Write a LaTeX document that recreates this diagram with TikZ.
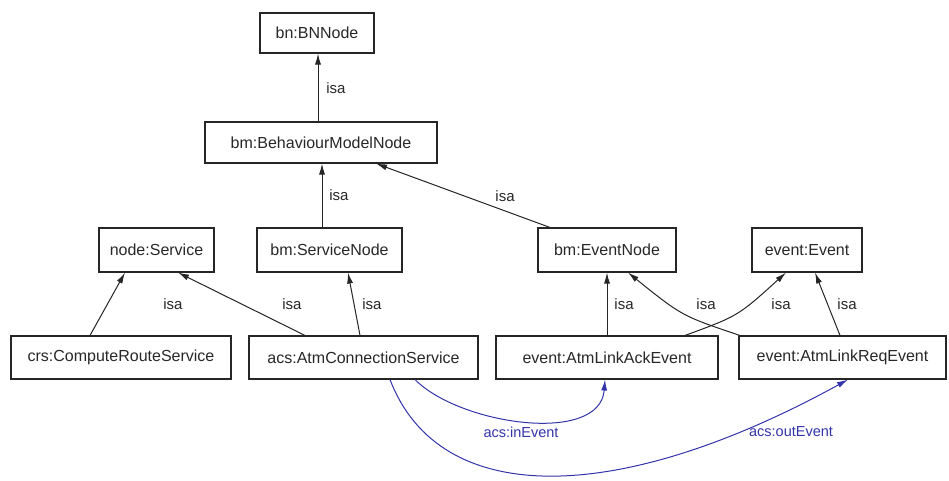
\documentclass[tikz,border=0pt]{standalone}
\usepackage{fontspec}
\setmainfont{Liberation Sans}
\usetikzlibrary{arrows.meta}
\definecolor{linkblue}{RGB}{52,52,170}
\definecolor{textgray}{RGB}{40,40,40}
\begin{document}
\begin{tikzpicture}[x=1pt,y=-1pt,
  cls/.style={draw=black!85, line width=1.1pt, fill=white, text=textgray,
    inner sep=0pt, font=\fontsize{16}{18}\selectfont},
  isa/.style={draw=black!85, line width=1pt, -{Latex[length=11pt,width=6pt]}},
  rel/.style={draw=linkblue, line width=1pt, -{Latex[length=11pt,width=6pt]}},
  lbl/.style={text=textgray, font=\fontsize{15}{17}\selectfont, inner sep=0pt},
  rlbl/.style={text=linkblue, font=\fontsize{14.5}{17}\selectfont, inner sep=0pt}]
\useasboundingbox[fill=white] (0,0) rectangle (949,480);

% class nodes
\node[cls, minimum width=114pt, minimum height=40pt] (bn)  at (317,33)    {bn:BNNode};
\node[cls, minimum width=232pt, minimum height=41pt] (bm)  at (321,142.5) {bm:BehaviourModelNode};
\node[cls, minimum width=115pt, minimum height=44pt] (ns)  at (156.5,250) {node:Service};
\node[cls, minimum width=145pt, minimum height=44pt] (sn)  at (329.5,250) {bm:ServiceNode};
\node[cls, minimum width=138pt, minimum height=44pt] (en)  at (607,250)   {bm:EventNode};
\node[cls, minimum width=110pt, minimum height=44pt] (ev)  at (807,250)   {event:Event};
\node[cls, minimum width=220pt, minimum height=43pt] (crs) at (121,357.5) {crs:ComputeRouteService};
\node[cls, minimum width=229pt, minimum height=43pt] (acs) at (363.5,357.5) {acs:AtmConnectionService};
\node[cls, minimum width=222pt, minimum height=43pt] (ack) at (607,357.5) {event:AtmLinkAckEvent};
\node[cls, minimum width=207pt, minimum height=43pt] (req) at (842.5,357.5) {event:AtmLinkReqEvent};

% isa links
\draw[isa] ([xshift=-3pt]bm.north) -- ([xshift=1pt]bn.south);
\draw[isa] ([xshift=-7.5pt]sn.north) -- ([xshift=1pt]bm.south);
\draw[isa] ([xshift=-57pt]en.north) -- ([xshift=55pt]bm.south);
\draw[isa] ([xshift=-31pt]crs.north) -- ([xshift=-31.5pt]ns.south);
\draw[isa] ([xshift=-58.5pt]acs.north) -- ([xshift=21.5pt]ns.south);
\draw[isa] ([xshift=-3.5pt]acs.north) -- ([xshift=18.5pt]sn.south);
\draw[isa] (ack.north) -- (en.south);
\draw[isa] ([xshift=-102.5pt]req.north) .. controls (682,316) .. ([xshift=21pt]en.south);
\draw[isa] ([xshift=78pt]ack.north) .. controls (738,316) .. ([xshift=-21pt]ev.south);
\draw[isa] ([xshift=-2.5pt]req.north) -- ([xshift=8pt]ev.south);

% isa labels
\node[lbl] (l1) at (336,88)  {isa};
\node[lbl] (l2) at (339,195) {isa};
\node[lbl] (l3) at (505,196) {isa};
\node[lbl] (l4) at (173,304) {isa};
\node[lbl] (l5) at (292,304) {isa};
\node[lbl] (l6) at (372,304) {isa};
\node[lbl] (l7) at (624,304) {isa};
\node[lbl] (l8) at (706,304) {isa};
\node[lbl] (l9) at (781,304) {isa};
\node[lbl] (l10) at (847,304) {isa};

% event relations
\draw[rel] ([xshift=51.5pt]acs.south) .. controls (460,425) and (600,445) .. ([xshift=-2pt]ack.south);
\draw[rel] ([xshift=26.5pt]acs.south) .. controls (440,510) and (620,505) .. ([xshift=5.5pt]req.south);
\node[rlbl] (r1) at (521,432) {acs:inEvent};
\node[rlbl] (r2) at (791,432) {acs:outEvent};
\end{tikzpicture}
\end{document}
